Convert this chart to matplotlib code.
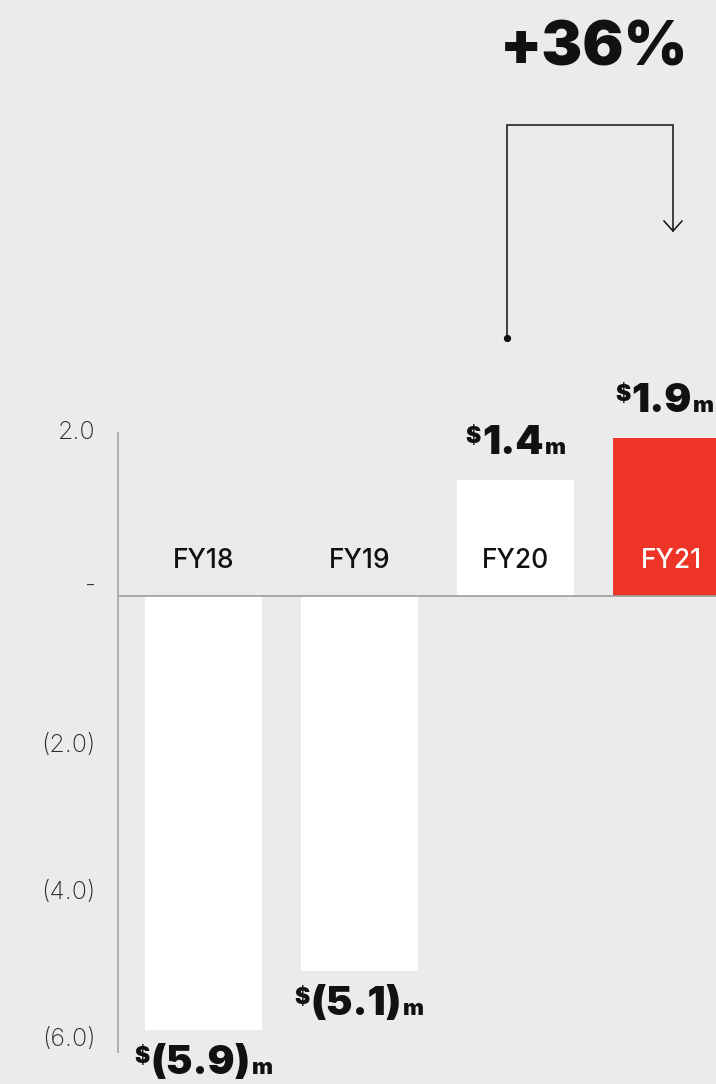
import numpy as np
import matplotlib
matplotlib.use("Agg")
import matplotlib.pyplot as plt
from matplotlib.transforms import offset_copy, ScaledTranslation
from matplotlib.lines import Line2D

# ---------------- data ----------------
categories = ["FY18", "FY19", "FY20", "FY21"]
values = [-5.9, -5.1, 1.4, 1.9]
value_text = ["(5.9)", "(5.1)", "1.4", "1.9"]
bar_colors = ["#ffffff", "#ffffff", "#ffffff", "#ee3426"]
cat_label_colors = ["#111111", "#111111", "#111111", "#ffffff"]
yticks = [2.0, 0.0, -2.0, -4.0, -6.0]
ytick_labels = ["2.0", "-", "(2.0)", "(4.0)", "(6.0)"]
growth_label = "+36%"

# ---------------- style ----------------
BG = "#ebebeb"
FONT = "Inter"
W, H, DPI = 716, 1084, 100

fig = plt.figure(figsize=(W / DPI, H / DPI), dpi=DPI, facecolor=BG)
ax = fig.add_axes([118 / W, 1 - 1052 / H, (W - 118) / W, (1052 - 430) / H])
ax.set_facecolor(BG)

# the original graphic uses a slightly larger scale above zero than below
POS, NEG = 83.0, 73.6


def fwd(y):
    y = np.asarray(y, float)
    return np.where(y > 0, y * POS / NEG, y)


def inv(y):
    y = np.asarray(y, float)
    return np.where(y > 0, y * NEG / POS, y)


ax.set_yscale("function", functions=(fwd, inv))

x = np.arange(len(categories))
BAR_W = 0.744
ax.bar(x, values, width=BAR_W, color=bar_colors, zorder=2, linewidth=0)
ax.set_xlim(-0.548, 3.285)
ax.set_ylim(-6.2, 2.0)

for s in ["top", "right", "bottom"]:
    ax.spines[s].set_visible(False)
ax.spines["left"].set_color("#a9a9a9")
ax.spines["left"].set_linewidth(1.3)
ax.spines["left"].set_bounds(-6.2, 1.96)

ax.axhline(0, xmin=0.004, color="#9c9c9c", lw=1.2, zorder=3)

ax.set_xticks([])
ax.set_yticks(yticks)
ax.set_yticklabels(ytick_labels)
ax.tick_params(axis="y", length=0, pad=16, labelsize=18, labelcolor="#2a2a2a")
for lbl in ax.get_yticklabels():
    lbl.set_fontfamily(FONT)
    lbl.set_fontweight("light")
    if lbl.get_text() == "-":
        lbl.set_transform(lbl.get_transform() + ScaledTranslation(0, 9 / 72, fig.dpi_scale_trans))

# category labels inside bars, above the zero line
for xi, cat, col in zip(x, categories, cat_label_colors):
    tr = offset_copy(ax.transData, fig=fig, x=0, y=28, units="dots")
    ax.text(xi, 0, cat, transform=tr, ha="center", va="baseline", fontsize=19,
            family=FONT, fontweight="medium", color=col, zorder=4)

# value labels: small "$", big number, small "m"
renderer = fig.canvas.get_renderer()
x_right = ax.get_xlim()[1]


def value_label(xc, y, num, base_dy):
    parts = [("$", 16.5, 11), (num, 29, 0), ("m", 16, 0)]
    items = []
    for s, size, rise in parts:
        t = ax.text(xc, y, s, ha="left", va="baseline", fontsize=size, family=FONT,
                    fontweight="black", color="#111111", clip_on=False, zorder=5)
        w = t.get_window_extent(renderer).width
        items.append((t, w, rise))
    gap = 1
    total = sum(w for _, w, _ in items) + gap * (len(items) - 1)
    start = -total / 2
    for t, w, rise in items:
        t.set_transform(offset_copy(ax.transData, fig=fig, x=start, y=base_dy + rise, units="dots"))
        start += w + gap


for xi, v, txt in zip(x, values, value_text):
    left = xi - BAR_W / 2
    right = min(xi + BAR_W / 2, x_right)
    xc = (left + right) / 2
    if v >= 0:
        value_label(xc, v, txt, 26)
    else:
        value_label(xc, v, txt, -44)

# growth annotation with bracket arrow (figure pixel layout)
def fx(px):
    return px / W


def fy(py):
    return 1 - py / H


fig.text(fx(594), fy(65), growth_label, ha="center", va="baseline", fontsize=44,
         family=FONT, fontweight="black", color="#111111")

lw = 1.1
fig.add_artist(Line2D([fx(507), fx(507), fx(673), fx(673)],
                      [fy(338), fy(125), fy(125), fy(231)],
                      transform=fig.transFigure, color="#111111", lw=lw,
                      solid_joinstyle="miter"))
fig.add_artist(Line2D([fx(664), fx(673), fx(682)],
                      [fy(221), fy(231), fy(221)],
                      transform=fig.transFigure, color="#111111", lw=lw))
fig.add_artist(Line2D([fx(507)], [fy(338)], transform=fig.transFigure,
                      marker="o", markersize=4.2, color="#111111", lw=0))

fig.savefig("out.png", dpi=DPI, facecolor=BG)
